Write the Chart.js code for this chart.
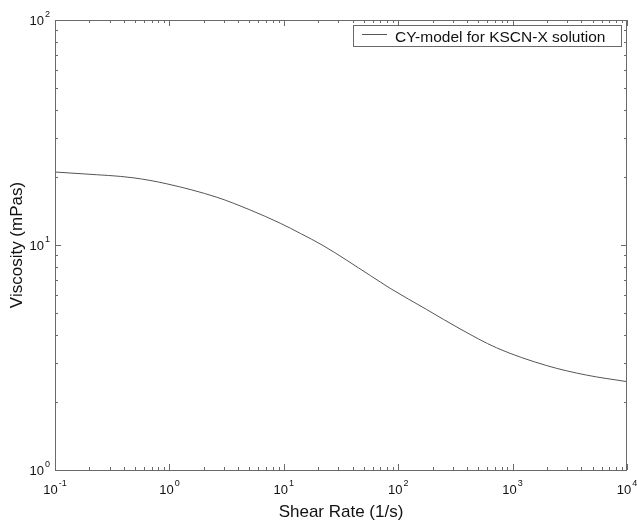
<!DOCTYPE html>
<html>
<head>
<meta charset="utf-8">
<script src="https://cdn.jsdelivr.net/npm/chart.js@4"></script>
<style>
  html, body { margin: 0; padding: 0; background: #fff; }
  #wrap { width: 637px; height: 523px; }
</style>
</head>
<body>
<div id="wrap"><canvas id="viscChart" width="637" height="523"></canvas></div>
<script>
// 読み取ったデータ（せん断速度と粘度）
const shearRate = [0.1, 0.18, 0.48, 0.95, 2.6, 5.1, 9.3, 14, 22, 57, 85, 177, 347, 726, 1990, 4450, 10000];
const viscosity = [21.1, 20.7, 19.9, 18.7, 16.3, 14.3, 12.5, 11.25, 9.95, 7.32, 6.42, 5.17, 4.24, 3.49, 2.91, 2.64, 2.47];

// 軸の目盛り（10のべき指数）
const xTickExps = [-1, 0, 1, 2, 3, 4];
const yTickExps = [0, 1, 2];

const seriesLabel = 'CY-model for KSCN-X solution';
const xTitle = 'Shear Rate (1/s)';
const yTitle = 'Viscosity (mPas)';

const FONT = '"Liberation Sans", Arial, sans-serif';
const AXIS_COLOR = '#6a6a6a';
const TEXT_COLOR = '#111';

// 10^n の形で描く
function drawPow(ctx, exp, x, y, align) {
    ctx.font = '13px ' + FONT;
    const base = '10';
    const wb = ctx.measureText(base).width;
    ctx.font = '9px ' + FONT;
    const es = String(exp);
    const we = ctx.measureText(es).width;
    const total = wb + we + 1;
    let sx = x - total / 2;
    if (align === 'right') sx = x - total;
    ctx.textAlign = 'left';
    ctx.textBaseline = 'alphabetic';
    ctx.font = '13px ' + FONT;
    ctx.fillText(base, sx, y);
    ctx.font = '9px ' + FONT;
    ctx.fillText(es, sx + wb + 1, y - 8);
}

const frameAxes = {
    id: 'frameAxes',
    afterDraw(chart) {
        const ctx = chart.ctx;
        const a = chart.chartArea;
        const xs = chart.scales.x;
        const ys = chart.scales.y;
        ctx.save();

        // 枠線
        ctx.strokeStyle = AXIS_COLOR;
        ctx.lineWidth = 1;
        ctx.strokeRect(a.left + 0.5, a.top + 0.5, a.right - a.left - 1, a.bottom - a.top);

        // 内向きの目盛り（上下左右）
        ctx.beginPath();
        for (let e = xTickExps[0]; e < xTickExps[xTickExps.length - 1] + 1; e++) {
            for (let m = 1; m <= 9; m++) {
                const v = m * Math.pow(10, e);
                if (v > xs.max * 1.0001) break;
                const px = Math.round(xs.getPixelForValue(v)) + 0.5;
                const len = m === 1 ? 6 : 3;
                ctx.moveTo(px, a.bottom); ctx.lineTo(px, a.bottom - len);
                ctx.moveTo(px, a.top); ctx.lineTo(px, a.top + len);
            }
        }
        for (let e = yTickExps[0]; e < yTickExps[yTickExps.length - 1] + 1; e++) {
            for (let m = 1; m <= 9; m++) {
                const v = m * Math.pow(10, e);
                if (v > ys.max * 1.0001) break;
                const py = Math.round(ys.getPixelForValue(v)) + 0.5;
                const len = m === 1 ? 6 : 3;
                ctx.moveTo(a.left, py); ctx.lineTo(a.left + len, py);
                ctx.moveTo(a.right, py); ctx.lineTo(a.right - len, py);
            }
        }
        ctx.stroke();

        // 目盛りラベル
        ctx.fillStyle = TEXT_COLOR;
        xTickExps.forEach(e => {
            const px = xs.getPixelForValue(Math.pow(10, e));
            drawPow(ctx, e, px, a.bottom + 24, 'center');
        });
        yTickExps.forEach(e => {
            const py = ys.getPixelForValue(Math.pow(10, e));
            drawPow(ctx, e, a.left - 5, py + 5, 'right');
        });

        // 軸タイトル
        ctx.font = '17px ' + FONT;
        ctx.textAlign = 'center';
        ctx.textBaseline = 'alphabetic';
        ctx.fillText(xTitle, (a.left + a.right) / 2, 517);
        ctx.save();
        ctx.translate(22, (a.top + a.bottom) / 2);
        ctx.rotate(-Math.PI / 2);
        ctx.fillText(yTitle, 0, 0);
        ctx.restore();

        // 凡例
        const ds = chart.data.datasets[0];
        ctx.strokeStyle = AXIS_COLOR;
        ctx.strokeRect(353.5, 25.5, 268, 21);
        ctx.strokeStyle = ds.borderColor;
        ctx.beginPath();
        ctx.moveTo(362, 34.5); ctx.lineTo(387, 34.5);
        ctx.stroke();
        ctx.fillStyle = TEXT_COLOR;
        ctx.font = '15.5px ' + FONT;
        ctx.textAlign = 'left';
        ctx.fillText(ds.label, 395, 41.5);

        ctx.restore();
    }
};

const ctx = document.getElementById('viscChart').getContext('2d');
const viscChart = new Chart(ctx, {
    type: 'line',
    data: {
        datasets: [{
            label: seriesLabel,
            data: shearRate.map((x, i) => ({ x: x, y: viscosity[i] })),
            borderColor: '#555',
            borderWidth: 1,
            pointRadius: 0,
            fill: false,
            cubicInterpolationMode: 'monotone'
        }]
    },
    options: {
        responsive: false,
        devicePixelRatio: 1,
        animation: false,
        layout: { padding: { left: 55, top: 20, right: 10, bottom: 53 } },
        scales: {
            x: { type: 'logarithmic', min: 0.1, max: 10000, display: false },
            y: { type: 'logarithmic', min: 1, max: 100, display: false }
        },
        plugins: {
            legend: { display: false },
            tooltip: { enabled: false }
        }
    },
    plugins: [frameAxes]
});
</script>
</body>
</html>
